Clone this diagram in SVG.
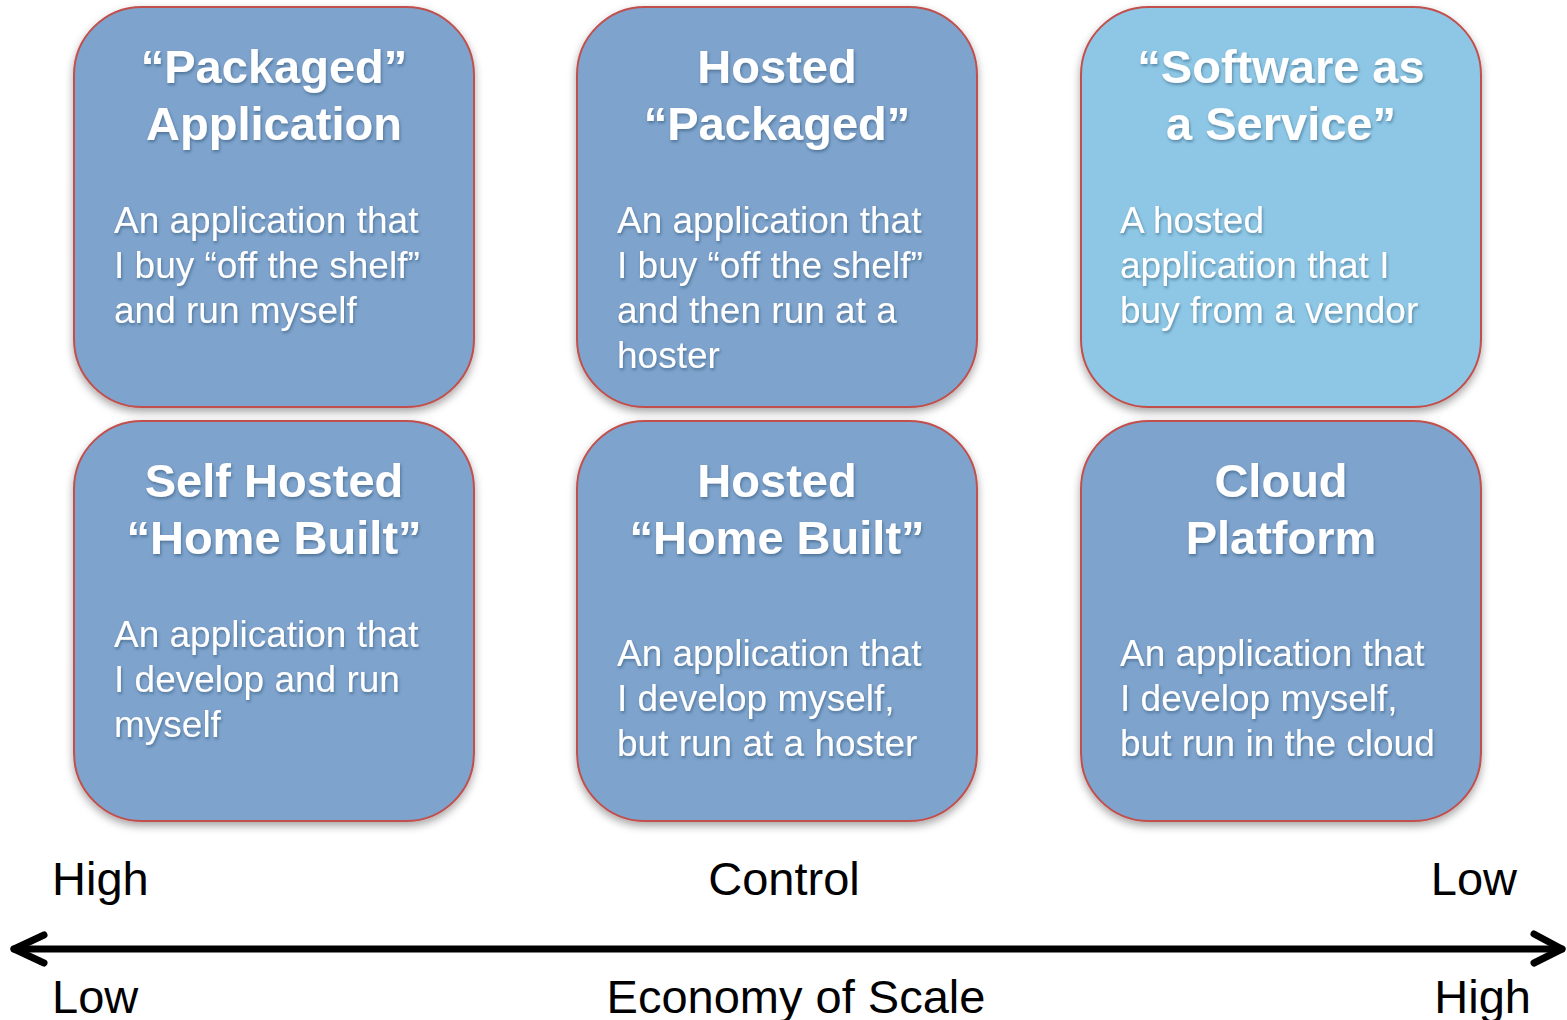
<svg xmlns="http://www.w3.org/2000/svg" width="1567" height="1020" viewBox="0 0 1567 1020">
  <style>
    .box { stroke: #c0504d; stroke-width: 2; filter: url(#boxShadow); }
    .dark { fill: #7ea3cc; }
    .light { fill: #8ec7e5; }
    .title { font-family: "Liberation Sans", Arial, sans-serif; font-weight: bold; font-size: 47px; fill: #ffffff; text-anchor: middle; filter: url(#textShadow); }
    .body { font-family: "Liberation Sans", Arial, sans-serif; font-size: 37px; fill: #ffffff; filter: url(#textShadow); }
    .axis { font-family: "Liberation Sans", Arial, sans-serif; font-size: 47px; fill: #000000; }
    .arrow { stroke: #000000; stroke-width: 7; fill: none; stroke-linecap: round; stroke-linejoin: round; }
  </style>
  <defs>
    <filter id="boxShadow" x="-10%" y="-10%" width="120%" height="125%">
      <feDropShadow dx="0" dy="4" stdDeviation="4" flood-color="#000000" flood-opacity="0.35"/>
    </filter>
    <filter id="textShadow" x="-5%" y="-20%" width="110%" height="150%">
      <feDropShadow dx="1" dy="2" stdDeviation="1.5" flood-color="#1f3a5c" flood-opacity="0.45"/>
    </filter>
  </defs>
  <rect width="1567" height="1020" fill="#ffffff"/>

  <!-- top row -->
  <g id="packaged-application">
    <rect class="box dark" x="74" y="7" width="400" height="400" rx="68" ry="68"/>
    <text class="title" x="274" y="83">“Packaged”</text>
    <text class="title" x="274" y="140">Application</text>
    <text class="body" x="114" y="233">An application that</text>
    <text class="body" x="114" y="278">I buy “off the shelf”</text>
    <text class="body" x="114" y="323">and run myself</text>
  </g>
  <g id="hosted-packaged">
    <rect class="box dark" x="577" y="7" width="400" height="400" rx="68" ry="68"/>
    <text class="title" x="777" y="83">Hosted</text>
    <text class="title" x="777" y="140">“Packaged”</text>
    <text class="body" x="617" y="233">An application that</text>
    <text class="body" x="617" y="278">I buy “off the shelf”</text>
    <text class="body" x="617" y="323">and then run at a</text>
    <text class="body" x="617" y="368">hoster</text>
  </g>
  <g id="software-as-a-service">
    <rect class="box light" x="1081" y="7" width="400" height="400" rx="68" ry="68"/>
    <text class="title" x="1281" y="83">“Software as</text>
    <text class="title" x="1281" y="140">a Service”</text>
    <text class="body" x="1120" y="233">A hosted</text>
    <text class="body" x="1120" y="278">application that I</text>
    <text class="body" x="1120" y="323">buy from a vendor</text>
  </g>

  <!-- bottom row -->
  <g id="self-hosted-home-built">
    <rect class="box dark" x="74" y="421" width="400" height="400" rx="68" ry="68"/>
    <text class="title" x="274" y="497">Self Hosted</text>
    <text class="title" x="274" y="554">“Home Built”</text>
    <text class="body" x="114" y="647">An application that</text>
    <text class="body" x="114" y="692">I develop and run</text>
    <text class="body" x="114" y="737">myself</text>
  </g>
  <g id="hosted-home-built">
    <rect class="box dark" x="577" y="421" width="400" height="400" rx="68" ry="68"/>
    <text class="title" x="777" y="497">Hosted</text>
    <text class="title" x="777" y="554">“Home Built”</text>
    <text class="body" x="617" y="666">An application that</text>
    <text class="body" x="617" y="711">I develop myself,</text>
    <text class="body" x="617" y="756">but run at a hoster</text>
  </g>
  <g id="cloud-platform">
    <rect class="box dark" x="1081" y="421" width="400" height="400" rx="68" ry="68"/>
    <text class="title" x="1281" y="497">Cloud</text>
    <text class="title" x="1281" y="554">Platform</text>
    <text class="body" x="1120" y="666">An application that</text>
    <text class="body" x="1120" y="711">I develop myself,</text>
    <text class="body" x="1120" y="756">but run in the cloud</text>
  </g>

  <!-- axis: control vs economy of scale -->
  <g id="connectors">
    <path class="arrow" d="M14 949 H1562"/>
    <path class="arrow" d="M44 935 L14 949 L44 963"/>
    <path class="arrow" d="M1534 934 L1562 949 L1534 963"/>
  </g>
  <g id="axis-labels">
    <text class="axis" x="52" y="895">High</text>
    <text class="axis" x="784" y="895" text-anchor="middle">Control</text>
    <text class="axis" x="1517" y="895" text-anchor="end">Low</text>
    <text class="axis" x="52" y="1013">Low</text>
    <text class="axis" x="796" y="1013" text-anchor="middle">Economy of Scale</text>
    <text class="axis" x="1531" y="1013" text-anchor="end">High</text>
  </g>
</svg>
